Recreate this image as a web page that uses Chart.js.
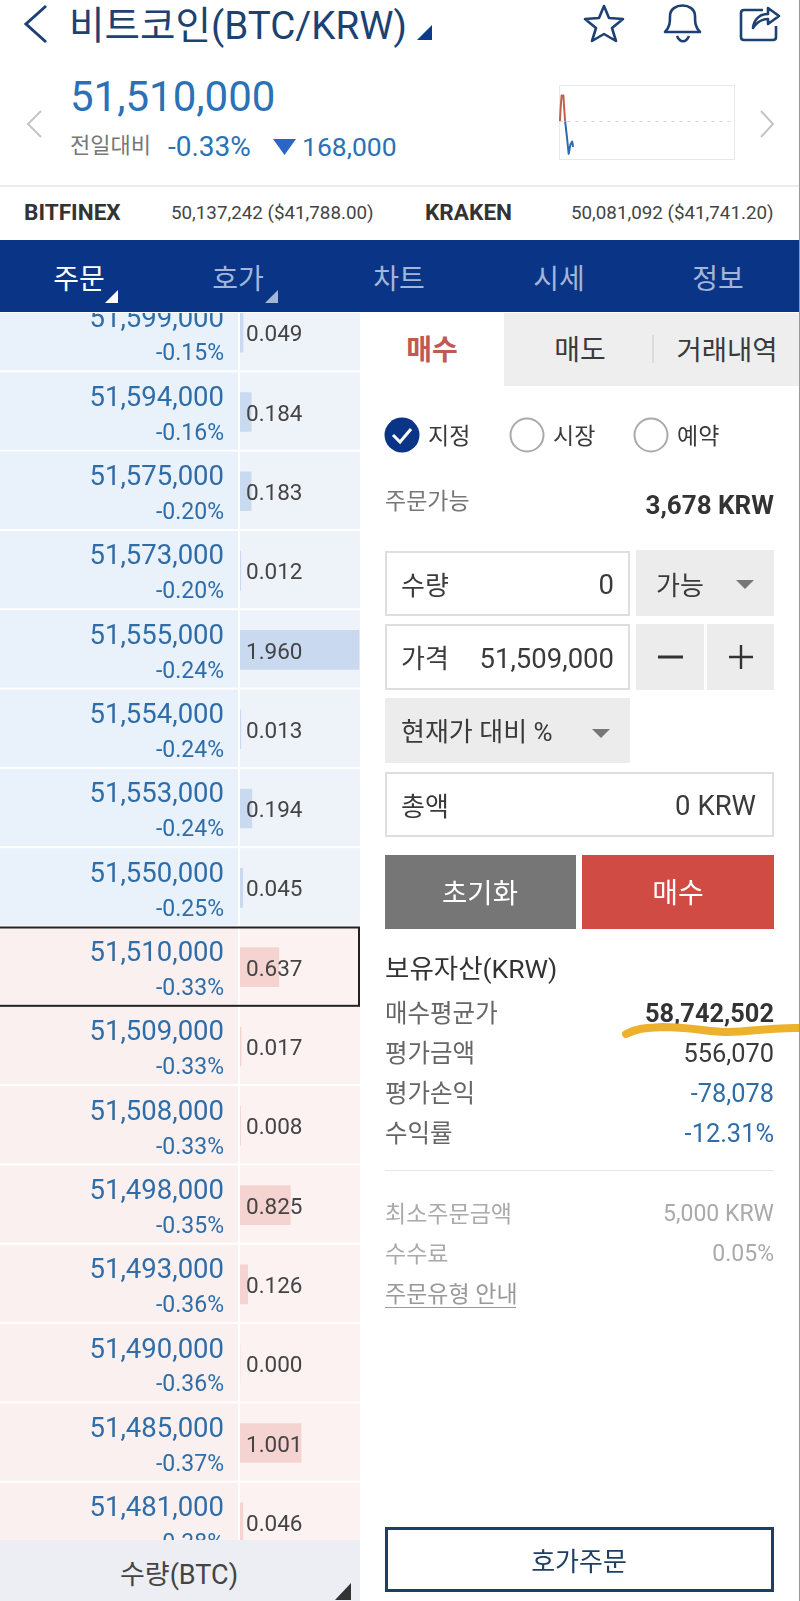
<!DOCTYPE html>
<html lang="ko">
<head>
<meta charset="utf-8">
<title>비트코인(BTC/KRW)</title>
<script src="https://cdn.jsdelivr.net/npm/chart.js@4"></script>
<style>
html, body { margin: 0; padding: 0; background: #fff; }
#page { position: relative; width: 800px; height: 1601px; overflow: hidden; font-family: Roboto, "Noto Sans CJK KR", sans-serif; color: #3a3a3a; }
.t { position: absolute; height: 0; line-height: 0; white-space: nowrap; }
.r { text-align: right; }
.c { text-align: center; transform: translateX(-50%); }
.b { position: absolute; box-sizing: border-box; }
.box { border: 2px solid #dedede; background: #fff; }
.gray { background: #ececec; }
svg { position: absolute; overflow: visible; }
#bookWrap { position: absolute; left: 0; top: 313px; width: 360px; height: 1227px; overflow: hidden; }
#book { position: absolute; left: 0; top: -20px; }
#spark { position: absolute; left: 559px; top: 85px; }
</style>
</head>
<body>
<div id="page">
  <!-- 상단 헤더 -->
  <svg style="left:0;top:0" width="800" height="240" fill="none">
    <path d="M46 6 L26 24 L46 42" stroke="#1d4173" stroke-width="3"/>
    <path d="M432 25 V40 H417 Z" fill="#0c3b8a"/>
    <path d="M604 6 L609 18 L623 19 L612 28 L616 41 L604 34 L592 41 L596 28 L585 19 L599 18 Z" stroke="#1d4173" stroke-width="2.6" stroke-linejoin="round"/>
    <path d="M665 32 C670 27 670 22 670 16 C670 2 695 2 695 16 C695 22 695 27 700 32 Z M677 36 C680 43 686 43 689 36" stroke="#1d4173" stroke-width="2.6" stroke-linejoin="round"/>
    <path d="M763 10 H744 Q741 10 741 13 V37 Q741 40 744 40 H773 Q776 40 776 37 V26 M753 28 C754 19 760 14 768 14 V8 L779 16 L768 24 V19 C761 19 757 22 753 28 Z" stroke="#1d4173" stroke-width="2.6" stroke-linejoin="round"/>
    <path d="M41 111 L28 124 L41 137" stroke="#c4c4c4" stroke-width="2"/>
    <path d="M761 111 L773 124 L761 137" stroke="#c4c4c4" stroke-width="2"/>
    <path d="M273 139 H296 L284.5 155 Z" fill="#2b66c4"/>
  </svg>
  <div class="t" style="left:69px;top:26px;font-size:38.6px;color:#1d4173">비트코인(BTC/KRW)</div>
  <div class="t" style="left:70px;top:97px;font-size:42px;color:#2a72b5">51,510,000</div>
  <div class="t" style="left:70px;top:146px;font-size:22px;color:#777">전일대비</div>
  <div class="t" style="left:168px;top:147px;font-size:28px;color:#2a72b5">-0.33%</div>
  <div class="t" style="left:302px;top:147px;font-size:26.5px;color:#2a72b5">168,000</div>
  <canvas id="spark" width="176" height="75"></canvas>
  <div class="b" style="left:0;top:185px;width:800px;height:2px;background:#ececec"></div>
  <div class="t" style="left:24px;top:213px;font-size:22.6px;font-weight:700;color:#333">BITFINEX</div>
  <div class="t" style="left:171px;top:213px;font-size:18.8px;color:#444">50,137,242 ($41,788.00)</div>
  <div class="t" style="left:425px;top:213px;font-size:22.6px;font-weight:700;color:#333">KRAKEN</div>
  <div class="t" style="left:571px;top:213px;font-size:18.8px;color:#444">50,081,092 ($41,741.20)</div>

  <!-- 탭 -->
  <div class="b" style="left:0;top:240px;width:800px;height:72px;background:#0a3586"></div>
  <div class="t c" style="left:79px;top:280px;font-size:28px;color:#fff">주문</div>
  <div class="t c" style="left:238px;top:280px;font-size:28px;color:#a3b5d8">호가</div>
  <div class="t c" style="left:399px;top:280px;font-size:28px;color:#a3b5d8">차트</div>
  <div class="t c" style="left:559px;top:280px;font-size:28px;color:#a3b5d8">시세</div>
  <div class="t c" style="left:718px;top:280px;font-size:28px;color:#a3b5d8">정보</div>
  <svg style="left:0;top:240px" width="800" height="72">
    <path d="M118 50 V63 H105 Z" fill="#fff"/>
    <path d="M278 50 V63 H265 Z" fill="#a3b5d8"/>
  </svg>

  <!-- 호가 -->
  <div id="bookWrap"><canvas id="book" width="360" height="1269"></canvas></div>
  <div class="b" style="left:0;top:1540px;width:360px;height:61px;background:#eceef4"></div>
  <div class="t c" style="left:179px;top:1575px;font-size:27px;color:#444">수량(BTC)</div>
  <svg style="left:0;top:1540px" width="360" height="61"><path d="M351 43 V60 H335 Z" fill="#333"/></svg>

  <!-- 주문 영역 -->
  <div class="b" style="left:504px;top:313px;width:296px;height:73px;background:#eeeeee"></div>
  <div class="b" style="left:652px;top:335px;width:2px;height:28px;background:#dcdcdc"></div>
  <div class="t c" style="left:432px;top:351px;font-size:28px;font-weight:700;color:#bf5a52">매수</div>
  <div class="t c" style="left:580px;top:351px;font-size:28px;color:#3a3a3a">매도</div>
  <div class="t c" style="left:727px;top:351px;font-size:27.5px;color:#3a3a3a">거래내역</div>

  <svg style="left:0;top:0" width="800" height="1601" fill="none">
    <circle cx="402" cy="435" r="17.5" fill="#0a3586"/>
    <path d="M393 435 L400 442 L411 429" stroke="#fff" stroke-width="3"/>
    <circle cx="527" cy="435" r="16.5" stroke="#aaa" stroke-width="2"/>
    <circle cx="651" cy="435" r="16.5" stroke="#aaa" stroke-width="2"/>
  </svg>
  <div class="t" style="left:428px;top:437px;font-size:23px">지정</div>
  <div class="t" style="left:553px;top:437px;font-size:23px">시장</div>
  <div class="t" style="left:677px;top:437px;font-size:23px">예약</div>

  <div class="t" style="left:385px;top:502px;font-size:23px;color:#777">주문가능</div>
  <div class="t r" style="right:26px;top:505px;font-size:26px;font-weight:700;color:#333">3,678 KRW</div>

  <div class="b box" style="left:385px;top:551px;width:245px;height:65px"></div>
  <div class="t" style="left:401px;top:586px;font-size:26px">수량</div>
  <div class="t r" style="right:186px;top:585px;font-size:27.5px">0</div>
  <div class="b gray" style="left:636px;top:550px;width:138px;height:66px"></div>
  <div class="t" style="left:656px;top:586px;font-size:26px">가능</div>

  <div class="b box" style="left:385px;top:624px;width:245px;height:66px"></div>
  <div class="t" style="left:401px;top:659px;font-size:26px">가격</div>
  <div class="t r" style="right:186px;top:659px;font-size:27.5px">51,509,000</div>
  <div class="b gray" style="left:636px;top:624px;width:68px;height:66px"></div>
  <div class="b gray" style="left:707px;top:624px;width:67px;height:66px"></div>

  <div class="b gray" style="left:385px;top:698px;width:245px;height:65px"></div>
  <div class="t" style="left:401px;top:732px;font-size:26px">현재가 대비 %</div>

  <div class="b box" style="left:385px;top:772px;width:389px;height:65px"></div>
  <div class="t" style="left:401px;top:807px;font-size:26px">총액</div>
  <div class="t r" style="right:44px;top:806px;font-size:27.5px">0 KRW</div>

  <div class="b" style="left:385px;top:855px;width:191px;height:74px;background:#767676"></div>
  <div class="b" style="left:582px;top:855px;width:192px;height:74px;background:#cf4b43"></div>
  <div class="t c" style="left:480px;top:894px;font-size:27.5px;color:#fff">초기화</div>
  <div class="t c" style="left:678px;top:894px;font-size:28px;color:#fff">매수</div>

  <svg style="left:0;top:0" width="800" height="1601" fill="none">
    <path d="M736 580 H754 L745 589 Z" fill="#777"/>
    <path d="M592 729 H610 L601 738 Z" fill="#777"/>
    <path d="M658 657 H683" stroke="#333" stroke-width="3"/>
    <path d="M729 657 H753 M741 645 V669" stroke="#333" stroke-width="2.4"/>
  </svg>

  <div class="t" style="left:385px;top:969px;font-size:26.5px;color:#333">보유자산(KRW)</div>
  <div class="t" style="left:385px;top:1014px;font-size:24.5px;color:#666">매수평균가</div>
  <div class="t r" style="right:26px;top:1013px;font-size:25.4px;font-weight:700;color:#333">58,742,502</div>
  <div class="t" style="left:385px;top:1054px;font-size:24.5px;color:#666">평가금액</div>
  <div class="t r" style="right:26px;top:1053px;font-size:25.4px;color:#3a3a3a">556,070</div>
  <div class="t" style="left:385px;top:1094px;font-size:24.5px;color:#666">평가손익</div>
  <div class="t r" style="right:26px;top:1093px;font-size:25.4px;color:#2f6da8">-78,078</div>
  <div class="t" style="left:385px;top:1134px;font-size:24.5px;color:#666">수익률</div>
  <div class="t r" style="right:26px;top:1133px;font-size:25.4px;color:#2f6da8">-12.31%</div>

  <svg style="left:0;top:0" width="800" height="1601" fill="none">
    <path d="M626 1034 C640 1027 650 1028 662 1027 C690 1027 710 1032 728 1032 C750 1032 775 1027 800 1028" stroke="#edb12e" stroke-width="8" stroke-linecap="round"/>
  </svg>

  <div class="b" style="left:385px;top:1170px;width:389px;height:1px;background:#e6e6e6"></div>
  <div class="t" style="left:385px;top:1215px;font-size:23px;color:#aaa">최소주문금액</div>
  <div class="t r" style="right:26px;top:1214px;font-size:23px;color:#aaa">5,000 KRW</div>
  <div class="t" style="left:385px;top:1255px;font-size:23px;color:#aaa">수수료</div>
  <div class="t r" style="right:26px;top:1254px;font-size:23px;color:#aaa">0.05%</div>
  <div class="t" style="left:385px;top:1295px;font-size:23px;color:#999">주문유형 안내</div>
  <div class="b" style="left:385px;top:1307px;width:131px;height:1px;background:#999"></div>

  <div class="b" style="left:385px;top:1527px;width:389px;height:65px;border:3px solid #1d3f66"></div>
  <div class="t c" style="left:579px;top:1562px;font-size:26px;color:#1d3f66">호가주문</div>
  <div class="b" style="left:799px;top:0;width:1px;height:1601px;background:#999"></div>
</div>

<script>
const prices = ['51,599,000', '51,594,000', '51,575,000', '51,573,000', '51,555,000', '51,554,000', '51,553,000', '51,550,000',
    '51,510,000', '51,509,000', '51,508,000', '51,498,000', '51,493,000', '51,490,000', '51,485,000', '51,481,000'];
const changes = ['-0.15%', '-0.16%', '-0.20%', '-0.20%', '-0.24%', '-0.24%', '-0.24%', '-0.25%',
    '-0.33%', '-0.33%', '-0.33%', '-0.35%', '-0.36%', '-0.36%', '-0.37%', '-0.38%'];
const quantities = [0.049, 0.184, 0.183, 0.012, 1.960, 0.013, 0.194, 0.045,
    0.637, 0.017, 0.008, 0.825, 0.126, 0.000, 1.001, 0.046];
const currentPrice = '51,510,000';

// 미니 차트: 시간(장 시작 후 %) / 전일대비(%)
const sparkTimes = [0.5, 1, 1.5, 2.5, 3, 3.5, 4.5, 5.5, 6.5, 7.5, 8];
const sparkChange = [0, 0.2, 0.34, 0.34, 0.15, 0, -0.2, -0.42, -0.3, -0.26, -0.33];
const sparkBase = [0, 0];

function criarLivro() {
    const rowStyle = {
        id: 'rowStyle',
        beforeDatasetsDraw(chart) {
            const { ctx, scales: { y } } = chart;
            const h = y.getPixelForValue(1) - y.getPixelForValue(0);
            prices.forEach((p, i) => {
                const mid = y.getPixelForValue(i);
                const top = mid - h / 2;
                const isAsk = i < prices.indexOf(currentPrice);
                ctx.fillStyle = isAsk ? '#e9f1fa' : '#fbf0f0';
                ctx.fillRect(0, top, 238, h - 2);
                ctx.fillStyle = isAsk ? '#eef3fa' : '#fcf2f2';
                ctx.fillRect(240, top, 120, h - 2);
            });
        },
        afterDatasetsDraw(chart) {
            const { ctx, scales: { y } } = chart;
            const h = y.getPixelForValue(1) - y.getPixelForValue(0);
            ctx.save();
            ctx.textBaseline = 'middle';
            prices.forEach((p, i) => {
                const mid = y.getPixelForValue(i);
                ctx.textAlign = 'right';
                ctx.fillStyle = '#2f6da8';
                ctx.font = '27.5px Roboto';
                ctx.fillText(p, 224, mid - 13);
                ctx.font = '23px Roboto';
                ctx.fillText(changes[i], 224, mid + 22);
                ctx.textAlign = 'left';
                ctx.fillStyle = '#444';
                ctx.font = '22.5px Roboto';
                ctx.fillText(quantities[i].toFixed(3), 246, mid + 3);
                if (p === currentPrice) {
                    ctx.strokeStyle = '#222';
                    ctx.lineWidth = 2;
                    ctx.strokeRect(-2, mid - h / 2, 361, h - 1);
                }
            });
            ctx.restore();
        }
    };

    new Chart(document.getElementById('book').getContext('2d'), {
        type: 'bar',
        data: {
            labels: prices,
            datasets: [{
                label: '수량(BTC)',
                data: quantities,
                backgroundColor: prices.map((p, i) => i < prices.indexOf(currentPrice) ? '#c9daf0' : '#f4d3d0'),
                barThickness: 39
            }]
        },
        options: {
            indexAxis: 'y',
            responsive: false,
            animation: false,
            layout: { padding: { left: 240, right: 0.5 } },
            plugins: { legend: { display: false }, tooltip: { enabled: false } },
            scales: {
                x: { display: false, min: 0, max: 1.96 },
                y: { display: false }
            }
        },
        plugins: [rowStyle]
    });
}

function criarMiniGrafico() {
    const sparkBox = {
        id: 'sparkBox',
        beforeDatasetsDraw(chart) {
            const { ctx, chartArea: a } = chart;
            ctx.strokeStyle = '#e8e8e8';
            ctx.lineWidth = 1;
            ctx.strokeRect(a.left + 0.5, a.top + 0.5, a.width - 1, a.height - 1);
        }
    };

    new Chart(document.getElementById('spark').getContext('2d'), {
        type: 'line',
        data: {
            datasets: [{
                data: sparkBase.map((v, i) => ({ x: i * 100, y: v })),
                borderColor: '#ddd',
                borderWidth: 1,
                borderDash: [4, 4],
                pointRadius: 0
            }, {
                data: sparkTimes.map((t, i) => ({ x: t, y: sparkChange[i] })),
                borderWidth: 2,
                borderJoinStyle: 'round',
                pointRadius: 0,
                segment: {
                    borderColor: (c) => (c.p0.parsed.y + c.p1.parsed.y) / 2 >= 0 ? '#c0604f' : '#2a6bb0'
                }
            }]
        },
        options: {
            responsive: false,
            animation: false,
            plugins: { legend: { display: false }, tooltip: { enabled: false } },
            scales: {
                x: { type: 'linear', display: false, min: 0, max: 100 },
                y: { display: false, min: -0.5, max: 0.475 }
            }
        },
        plugins: [sparkBox]
    });
}

criarLivro();
criarMiniGrafico();
</script>
</body>
</html>
